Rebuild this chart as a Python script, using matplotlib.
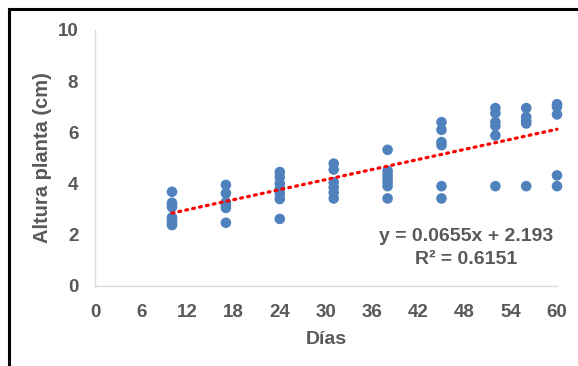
import matplotlib
matplotlib.use("Agg")
import matplotlib.pyplot as plt
from matplotlib.lines import Line2D

# Plant height (cm) measured on each sampling day
dias = [10, 17, 24, 31, 38, 45, 52, 56, 60]
alturas = [
    [3.68, 3.25, 3.15, 3.08, 2.68, 2.58, 2.48, 2.38],
    [3.95, 3.62, 3.27, 3.15, 3.05, 2.47],
    [4.45, 4.25, 4.0, 3.8, 3.6, 3.4, 2.62],
    [4.78, 4.55, 4.05, 3.85, 3.65, 3.42],
    [5.32, 4.5, 4.35, 4.2, 4.05, 3.9, 3.42],
    [6.4, 6.1, 5.62, 5.5, 3.9, 3.42],
    [6.95, 6.75, 6.4, 6.25, 5.88, 3.9],
    [6.95, 6.6, 6.45, 6.35, 3.9],
    [7.1, 7.0, 6.7, 4.32, 3.9],
]

# Linear trend reported on the chart
pendiente = 0.0655
intercepto = 2.193
r2 = 0.6151

x_ticks = [0, 6, 12, 18, 24, 30, 36, 42, 48, 54, 60]
y_ticks = [0, 2, 4, 6, 8, 10]

plt.rcParams["font.family"] = ["Liberation Sans", "DejaVu Sans"]
gris = "#595959"
azul = "#4F81BD"

W, H = 578, 366
fig = plt.figure(figsize=(W / 100, H / 100), dpi=100)
ax = fig.add_axes([95 / W, 1 - 286 / H, 462 / W, 256 / H])

xs, ys = [], []
for d, vals in zip(dias, alturas):
    for v in vals:
        xs.append(d)
        ys.append(v)
ax.scatter(xs, ys, s=58, color=azul, edgecolors="none", zorder=3, clip_on=False)

# Trend line over the sampled range
x0, x1 = min(dias), max(dias)
ax.plot([x0, x1], [pendiente * x0 + intercepto, pendiente * x1 + intercepto],
        color="#FF0000", lw=2.3, linestyle=(0, (0.6, 1.6)),
        dash_capstyle="round", zorder=4, clip_on=False)

ax.set_xlim(0, 60)
ax.set_ylim(0, 10)
ax.set_xticks(x_ticks)
ax.set_yticks(y_ticks)
ax.tick_params(axis="both", length=0, labelsize=13.5, labelcolor=gris)
ax.tick_params(axis="x", pad=13)
ax.tick_params(axis="y", pad=12)
for lab in ax.get_xticklabels() + ax.get_yticklabels():
    lab.set_fontweight("bold")

for side in ("top", "right"):
    ax.spines[side].set_visible(False)
for side in ("left", "bottom"):
    ax.spines[side].set_color("#D9D9D9")
    ax.spines[side].set_linewidth(1.0)

ax.set_xlabel("Días", fontsize=14, fontweight="bold", color=gris, labelpad=7)
ax.set_ylabel("Altura planta (cm)", fontsize=14.5, fontweight="bold", color=gris, labelpad=4)

ax.text(466 / W, 1 - 236 / H, f"y = {pendiente}x + {intercepto}", transform=fig.transFigure,
        ha="center", va="center", fontsize=14, fontweight="bold", color=gris)
ax.text(466 / W, 1 - 259 / H, f"R² = {r2}", transform=fig.transFigure,
        ha="center", va="center", fontsize=14, fontweight="bold", color=gris)

# Outer frame: left and top edges only
fig.add_artist(Line2D([9 / W, 9 / W], [0, 1 - 9 / H], transform=fig.transFigure,
                      color="black", lw=2.2, solid_capstyle="projecting"))
fig.add_artist(Line2D([9 / W, 1], [1 - 9 / H, 1 - 9 / H], transform=fig.transFigure,
                      color="black", lw=2.2, solid_capstyle="projecting"))

fig.savefig("out.png", dpi=100)
